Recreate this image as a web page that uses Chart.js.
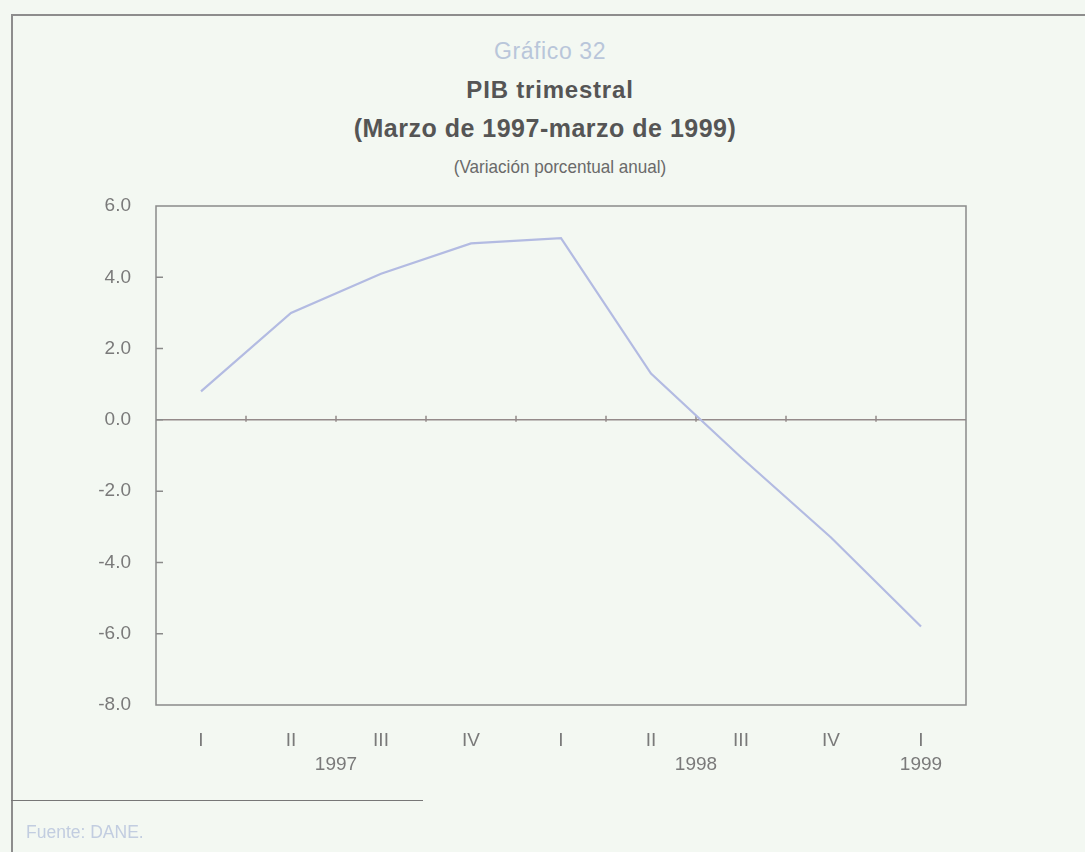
<!DOCTYPE html>
<html>
<head>
<meta charset="utf-8">
<script src="https://cdn.jsdelivr.net/npm/chart.js@4"></script>
<style>
  html, body { margin: 0; padding: 0; }
  body { width: 1085px; height: 852px; background: #f3f8f2; position: relative; overflow: hidden; font-family: "Liberation Sans", Arial, sans-serif; }
  #wrap { position: absolute; left: 0; top: 0; width: 1085px; height: 852px; }
  .frameTop { position: absolute; left: 11px; top: 14px; width: 1074px; height: 2px; background: #8d8d8d; }
  .frameLeft { position: absolute; left: 11px; top: 14px; width: 2px; height: 838px; background: #8d8d8d; }
  .footLine { position: absolute; left: 11px; top: 800px; width: 412px; height: 1px; background: #777; }
  .t { position: absolute; left: 250px; width: 600px; text-align: center; white-space: nowrap; line-height: 1; }
  #t1 { top: 40px; font-size: 23px; letter-spacing: 0.6px; color: #b9c6da; }
  #t2 { top: 78px; font-size: 24px; letter-spacing: 0.8px; font-weight: bold; color: #555; }
  #t3 { top: 116px; left: 245px; font-size: 25px; letter-spacing: 0.5px; font-weight: bold; color: #555; }
  #t4 { top: 157px; left: 260px; font-size: 19px; color: #6a6a6a; transform: scaleX(0.9); }
  #src { position: absolute; left: 26px; top: 822px; font-size: 17.5px; color: #c2cde0; }
</style>
</head>
<body>
<div class="frameTop"></div>
<div class="frameLeft"></div>
<div class="t" id="t1">Gráfico 32</div>
<div class="t" id="t2">PIB trimestral</div>
<div class="t" id="t3">(Marzo de 1997-marzo de 1999)</div>
<div class="t" id="t4">(Variación porcentual anual)</div>
<div id="wrap"><canvas id="c" width="1085" height="852"></canvas></div>
<div class="footLine"></div>
<div id="src">Fuente: DANE.</div>
<script>
// trimestres
const quarters = ["I", "II", "III", "IV", "I", "II", "III", "IV", "I"];
// variacion porcentual anual del PIB
const pibValues = [0.8, 3.0, 4.1, 4.95, 5.1, 1.3, -1.05, -3.3, -5.8];
// años debajo del eje (desde / hasta indice de trimestre)
const yearLabels = ["1997", "1998", "1999"];
const yearFrom = [0, 4, 8];
const yearTo = [3, 7, 8];
const yMin = -8, yMax = 6, yStep = 2;

const axisGray = "#8a8a8a";
const textGray = "#7a7a7a";
const labelFont = '"Liberation Sans", Arial, sans-serif';

// borde, marcas internas, linea del cero y años
const framePlugin = {
  id: "framePlugin",
  beforeDatasetsDraw(chart) {
    const { ctx, chartArea: a, scales } = chart;
    const x = scales.x, y = scales.y;
    ctx.save();
    // linea del cero con marcas entre trimestres
    const y0 = y.getPixelForValue(0);
    ctx.strokeStyle = "#948a8a";
    ctx.lineWidth = 1.5;
    ctx.beginPath();
    ctx.moveTo(a.left, y0);
    ctx.lineTo(a.right, y0);
    for (let i = 0; i < quarters.length - 1; i++) {
      const mx = (x.getPixelForValue(i) + x.getPixelForValue(i + 1)) / 2;
      ctx.moveTo(mx, y0 - 4);
      ctx.lineTo(mx, y0 + 2);
    }
    ctx.stroke();
    ctx.restore();
  },
  afterDraw(chart) {
    const { ctx, chartArea: a, scales } = chart;
    const x = scales.x, y = scales.y;
    ctx.save();
    ctx.strokeStyle = axisGray;
    ctx.lineWidth = 1.5;
    ctx.strokeRect(a.left, a.top, a.right - a.left, a.bottom - a.top);
    // marcas hacia adentro en el eje y
    ctx.beginPath();
    for (let v = yMin + yStep; v < yMax; v += yStep) {
      const py = y.getPixelForValue(v);
      ctx.moveTo(a.left, py);
      ctx.lineTo(a.left + 7, py);
    }
    ctx.stroke();
    // años
    ctx.fillStyle = textGray;
    ctx.font = "19px " + labelFont;
    ctx.textAlign = "center";
    ctx.textBaseline = "middle";
    yearLabels.forEach((lab, i) => {
      const cx = (x.getPixelForValue(yearFrom[i]) + x.getPixelForValue(yearTo[i])) / 2;
      ctx.fillText(lab, cx, a.bottom + 60);
    });
    ctx.restore();
  }
};

new Chart(document.getElementById("c"), {
  type: "line",
  data: {
    labels: quarters,
    datasets: [{
      data: pibValues,
      borderColor: "#b3bbe2",
      borderWidth: 2.2,
      pointRadius: 0,
      tension: 0,
      fill: false
    }]
  },
  options: {
    responsive: false,
    animation: false,
    layout: { padding: { left: 0, right: 119, top: 206, bottom: 0 } },
    plugins: { legend: { display: false }, tooltip: { enabled: false }, title: { display: false } },
    scales: {
      x: {
        offset: true,
        grid: { display: false, drawTicks: false },
        border: { display: false },
        ticks: {
          color: textGray,
          padding: 24,
          maxRotation: 0,
          autoSkip: false,
          font: { size: 19, family: labelFont }
        },
        afterFit(scale) { scale.height = 147; }
      },
      y: {
        min: yMin,
        max: yMax,
        grid: { display: false, drawTicks: false },
        border: { display: false },
        ticks: {
          stepSize: yStep,
          color: textGray,
          padding: 25,
          callback: v => Number(v).toFixed(1),
          font: { size: 19, family: labelFont }
        },
        afterFit(scale) { scale.width = 156; }
      }
    }
  },
  plugins: [framePlugin]
});
</script>
</body>
</html>
